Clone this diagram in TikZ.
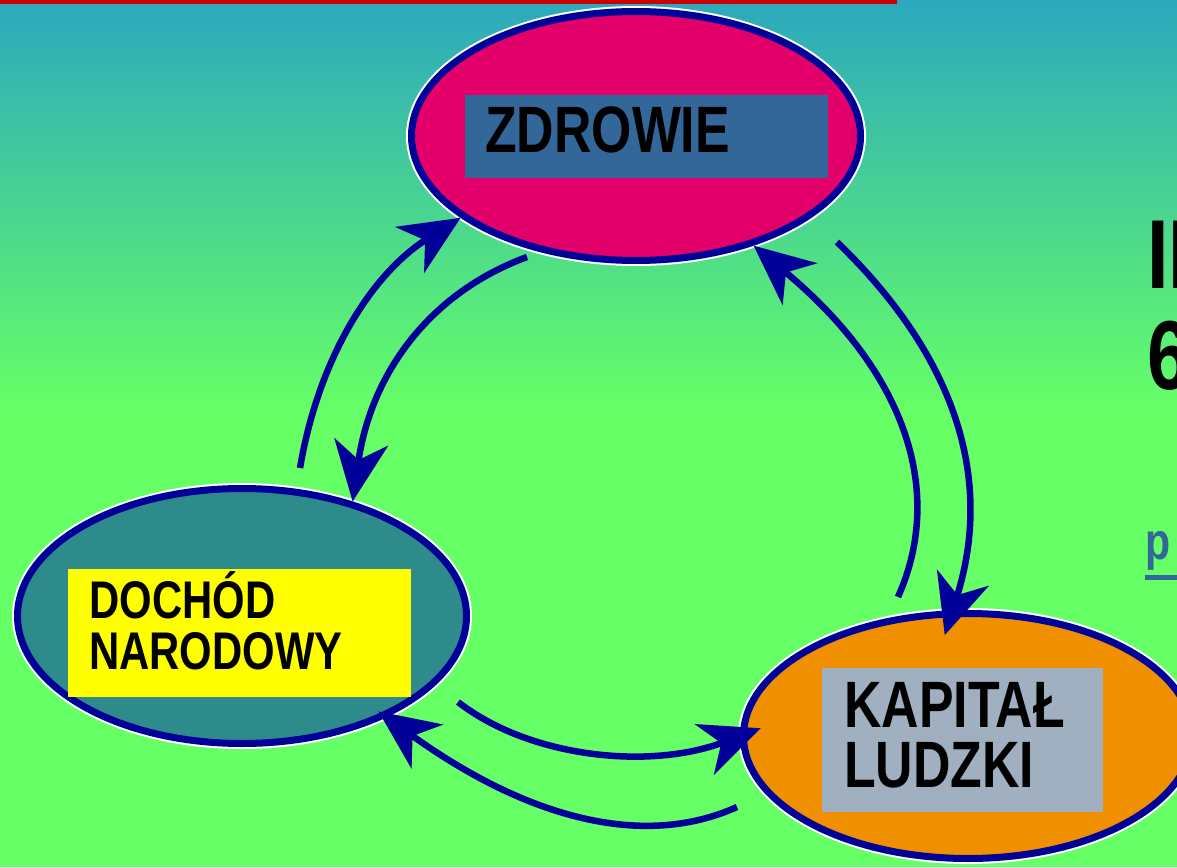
\documentclass[tikz,border=0pt]{standalone}
\usepackage{fontspec}
\usetikzlibrary{shapes.geometric,arrows.meta}
\newfontfamily\labelfont[FakeStretch=0.79]{Liberation Sans}
\definecolor{skytop}{RGB}{44,168,190}
\definecolor{grassgreen}{RGB}{102,255,102}
\definecolor{ringblue}{RGB}{0,0,153}
\definecolor{barred}{RGB}{204,0,0}
\definecolor{zdrowiefill}{RGB}{227,0,106}
\definecolor{dochodfill}{RGB}{46,139,140}
\definecolor{kapitalfill}{RGB}{240,144,0}
\definecolor{zdrowiebox}{RGB}{52,103,153}
\definecolor{dochodbox}{RGB}{255,255,0}
\definecolor{kapitalbox}{RGB}{160,176,192}
\definecolor{linkblue}{RGB}{51,102,153}
\tikzset{
  oval/.style={ellipse, draw=ringblue, line width=7pt, inner sep=0pt,
    preaction={draw=white, line width=11pt}},
  tag/.style={rectangle, inner sep=0pt, anchor=north west},
  caption/.style={anchor=base west, inner sep=0pt, text=black},
  flow/.style={draw=ringblue, line width=6.5pt,
    -{Stealth[length=60pt,width=54pt,inset=18pt]},
    preaction={draw=white, line width=10.5pt,
      -{Stealth[length=66pt,width=62pt,inset=20pt]}}},
}
\begin{document}
\begin{tikzpicture}[x=1pt,y=-1pt]
      \useasboundingbox (0,0) rectangle (1177,867);
      \shade[top color=skytop, bottom color=grassgreen] (0,0) rectangle (1177,410);
      \fill[grassgreen] (0,409) rectangle (1177,867);
      \fill[barred] (0,0) rectangle (897,4.5);
      \node[oval, fill=zdrowiefill, minimum width=449pt, minimum height=249pt] (zdrowie) at (636,136) {};
      \node[oval, fill=dochodfill, minimum width=449pt, minimum height=255pt] (dochod) at (242,616) {};
      \node[oval, fill=kapitalfill, minimum width=449pt, minimum height=245pt] (kapital) at (968,736) {};
      \node[tag, fill=zdrowiebox, minimum width=363pt, minimum height=83pt] (zdrowietag) at (465,95) {};
      \node[tag, fill=dochodbox, minimum width=343pt, minimum height=128pt] (dochodtag) at (68,569) {};
      \node[tag, fill=kapitalbox, minimum width=281pt, minimum height=144pt] (kapitaltag) at (822,668) {};
      \node[caption, font={\labelfont\bfseries\fontsize{65.6}{60}\selectfont}] (zdrowietext) at (485,152) {ZDROWIE};
      \node[caption, font={\labelfont\bfseries\fontsize{53}{51}\selectfont}] (dochodtext) at (89,669)
        {\vbox{\hbox{DOCHÓD}\hbox{NARODOWY}}};
      \node[caption, font={\labelfont\bfseries\fontsize{65.6}{60}\selectfont}] (kapitaltext) at (844,787)
        {\vbox{\hbox{KAPITAŁ}\hbox{LUDZKI}}};
      \node[caption, font={\labelfont\bfseries\fontsize{98}{101}\selectfont}] (sidetitle) at (1147,389)
        {\vbox{\hbox{IL}\hbox{6}}};
      \node[caption, text=linkblue, font={\labelfont\bfseries\fontsize{52}{60}\selectfont}] (sidelink) at (1145,559)
        {\rlap{\rule[-21pt]{40pt}{5pt}}p};
      \coordinate (d2z) at (300,468);
      \coordinate (z2d) at (527,257);
      \coordinate (k2z) at (898,597);
      \coordinate (z2k) at (837,242);
      \coordinate (d2k) at (458,702);
      \coordinate (k2d) at (737,807);
      \begin{scope}[flow]
        \draw (d2z) .. controls (319,356) and (373,273) .. (zdrowie.205);
        \draw (z2d) .. controls (429,293) and (371,374) .. (dochod.46);
        \draw (k2z) .. controls (947,487) and (901,368) .. (zdrowie.317);
        \draw[shorten >=-26pt] (z2k) .. controls (956,357) and (994,479) .. (kapital.97);
        \draw[shorten >=-22pt] (d2k) .. controls (530,758) and (650,770) .. (kapital.180);
        \draw[shorten >=-10pt] (k2d) .. controls (644,849) and (528,819) .. (dochod.325);
      \end{scope}
    \end{tikzpicture}
\end{document}
